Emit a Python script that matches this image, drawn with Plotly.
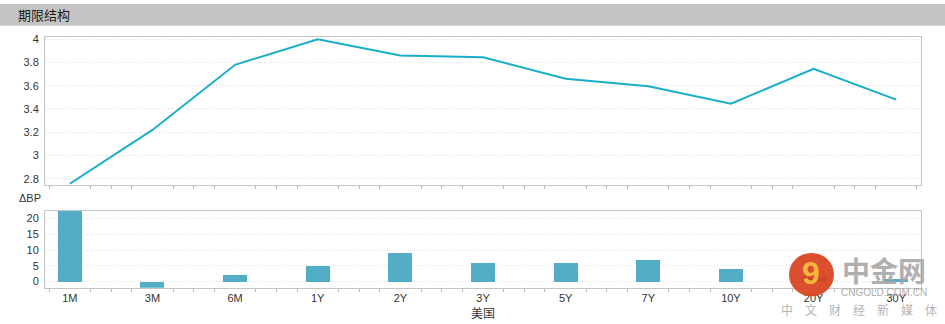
import plotly.graph_objects as go

categories = ["1M", "3M", "6M", "1Y", "2Y", "3Y", "5Y", "7Y", "10Y", "20Y", "30Y"]
yields = [2.757, 3.22, 3.78, 4.00, 3.86, 3.845, 3.66, 3.596, 3.445, 3.745, 3.48]
delta_bp = [22.4, -2.3, 2.0, 5.0, 9.2, 6.1, 6.0, 6.9, 4.1, 1.5, 1.0]
yield_ticks = [2.8, 3, 3.2, 3.4, 3.6, 3.8, 4]
bp_ticks = [0, 5, 10, 15, 20]

W, H = 945, 324
xpos = list(range(len(categories)))
minor_vals = [i + q for i in range(-1, len(categories) + 1) for q in (0.25, 0.5, 0.75)
              if -0.3 <= i + q <= len(categories) - 1 + 0.3 and (i + q) % 1 != 0]

def py(px):
    return 1 - px / H

line_color = "#19aec9"
bar_color = "#52aec7"
border = "#c4c4c4"
grid = "#dcdcdc"
gdash = "1px,2px"
font = "Liberation Sans, Arial, sans-serif"
cjk = "Noto Sans CJK SC, sans-serif"

fig = go.Figure()
fig.add_trace(go.Scatter(x=xpos, y=yields, mode="lines",
                         line=dict(color=line_color, width=2),
                         xaxis="x", yaxis="y", hoverinfo="skip"))
fig.add_trace(go.Bar(x=xpos, y=delta_bp, marker=dict(color=bar_color, line=dict(width=0)),
                     width=0.29, xaxis="x2", yaxis="y2", hoverinfo="skip"))

xdom = [45 / W, 921 / W]
xr = [-0.3, len(categories) - 1 + 0.3]
common_x = dict(range=xr, domain=xdom, showline=True, linecolor=border, linewidth=1,
                mirror=True, showgrid=False, zeroline=False, ticks="",
                minor=dict(tickmode="array", tickvals=minor_vals, ticks="outside",
                           ticklen=3, tickcolor="#bbbbbb", tickwidth=1, showgrid=False))

fig.update_layout(
    width=W, height=H, margin=dict(l=0, r=0, t=0, b=0),
    paper_bgcolor="white", plot_bgcolor="white", showlegend=False,
    font=dict(family=font, size=11, color="#333333"),
    xaxis=dict(**common_x, anchor="y", showticklabels=False, tickvals=xpos),
    yaxis=dict(domain=[py(183.3), py(33.3)], range=[2.746, 4.02], anchor="x",
               tickvals=yield_ticks, ticktext=[f"{v:g}" for v in yield_ticks],
               showline=True, linecolor=border, mirror=True, ticks="",
               showgrid=True, gridcolor=grid, griddash=gdash, gridwidth=1,
               zeroline=False, tickfont=dict(size=11, color="#333333"), ticklabelstandoff=3),
    xaxis2=dict(**common_x, anchor="y2", tickvals=xpos, ticktext=categories,
                tickfont=dict(size=11, color="#333333"),
                title=dict(text="美国", font=dict(family=cjk, size=12, color="#333333"), standoff=6)),
    yaxis2=dict(domain=[py(287.3), py(209.3)], range=[-2.0, 22.5], anchor="x2",
                tickvals=bp_ticks, showline=True, linecolor=border, mirror=True, ticks="",
                showgrid=True, gridcolor=grid, griddash=gdash, gridwidth=1,
                zeroline=False, tickfont=dict(size=11, color="#333333"), ticklabelstandoff=3),
    bargap=0,
)

# header bar
fig.add_shape(type="rect", xref="paper", yref="paper", x0=0, x1=1, y0=py(22), y1=1,
              fillcolor="#c4c4c4", line=dict(width=0), layer="below")
fig.add_annotation(text="期限结构", xref="paper", yref="paper", x=16 / W, y=py(11),
                   xanchor="left", yanchor="middle", showarrow=False,
                   font=dict(family=cjk, size=13, color="#1a1a1a"))
fig.add_annotation(text="ΔBP", xref="paper", yref="paper", x=43 / W, y=py(196),
                   xanchor="right", yanchor="middle", showarrow=False,
                   font=dict(family=font, size=11, color="#333333"))

# watermark
fig.add_shape(type="circle", xref="paper", yref="paper", x0=789 / W, x1=834 / W,
              y0=py(296), y1=py(252), fillcolor="#d8401c", line=dict(width=0),
              opacity=0.92, layer="above")
fig.add_annotation(text="<b>9</b>", xref="paper", yref="paper", x=811 / W, y=py(272),
                   xanchor="center", yanchor="middle", showarrow=False,
                   font=dict(family=font, size=32, color="#f6b43c"))
fig.add_annotation(text="<b>中金网</b>", xref="paper", yref="paper", x=884 / W, y=py(269),
                   xanchor="center", yanchor="middle", showarrow=False, opacity=0.85,
                   font=dict(family=cjk, size=28, color="#a3a3a3"))
fig.add_annotation(text="CNGOLD.COM.CN", xref="paper", yref="paper", x=884 / W, y=py(292),
                   xanchor="center", yanchor="middle", showarrow=False, opacity=0.85,
                   font=dict(family=font, size=10, color="#a0a0a0"))
fig.add_annotation(text="中　文　财　经　新　媒　体", xref="paper", yref="paper", x=859 / W, y=py(309),
                   xanchor="center", yanchor="middle", showarrow=False, opacity=0.85,
                   font=dict(family=cjk, size=12, color="#a8a8a8"))

fig.write_html("out.html")
